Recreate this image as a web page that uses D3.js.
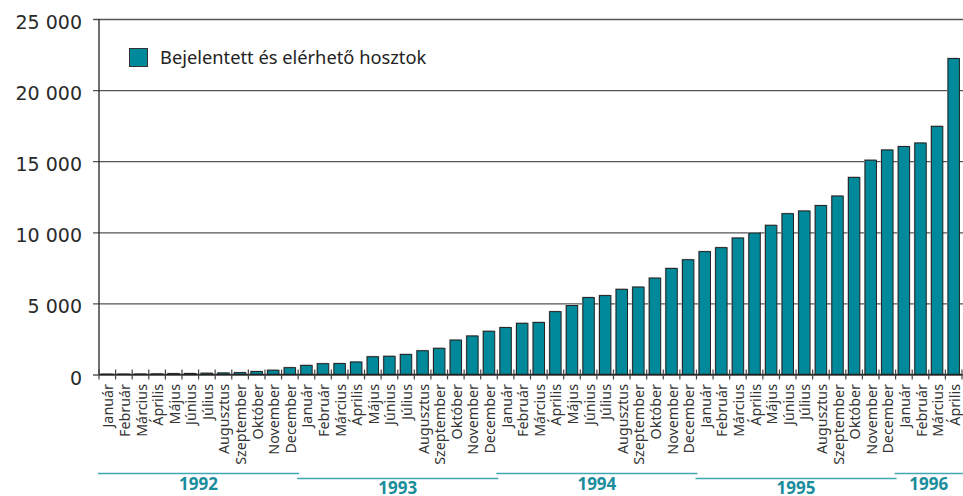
<!DOCTYPE html>
<html>
<head>
<meta charset="utf-8">
<script src="https://cdn.jsdelivr.net/npm/d3@7"></script>
<style>
  body { margin: 0; background: #fff; }
  svg { display: block; }
</style>
</head>
<body>
<div id="canvas"></div>
<script>
// months shown under every bar
var months = ['Január','Február','Március','Április','Május','Június','Július',
              'Augusztus','Szeptember','Október','November','December'];
var years = ['1992','1993','1994','1995','1996'];
var monthsPerYear = [12, 12, 12, 12, 4];

// registered and reachable hosts, Jan 1992 .. Apr 1996
var hosts1992 = [20, 25, 30, 40, 60, 70, 90, 110, 130, 210, 300, 480];
var hosts1993 = [640, 760, 770, 880, 1250, 1280, 1410, 1670, 1840, 2420, 2710, 3040];
var hosts1994 = [3300, 3600, 3660, 4420, 4850, 5410, 5550, 5990, 6150, 6780, 7460, 8070];
var hosts1995 = [8640, 8920, 9600, 9950, 10490, 11310, 11500, 11880, 12550, 13860, 15070, 15790];
var hosts1996 = [16030, 16280, 17450, 22220];

var yTicks = [0, 5000, 10000, 15000, 20000, 25000];
var legendLabel = 'Bejelentett és elérhető hosztok';

var allValues = [hosts1992, hosts1993, hosts1994, hosts1995, hosts1996];
var data = [];
allValues.forEach(function(arr, yi) {
  arr.forEach(function(v, mi) {
    data.push({key: years[yi] + '-' + mi, month: months[mi], year: years[yi], value: v});
  });
});

var W = 963, H = 496;
var plotLeft = 99, plotRight = 962, plotTop = 19, plotBottom = 374.5;
var teal = '#00899a';

var svg = d3.select('#canvas').append('svg')
  .attr('width', W)
  .attr('height', H);

var x = d3.scaleBand()
  .domain(data.map(function(d) { return d.key; }))
  .range([plotLeft, plotRight])
  .paddingInner(0.31)
  .paddingOuter(0.155);

var y = d3.scaleLinear()
  .domain([0, 25000])
  .range([plotBottom, plotTop]);

var fmt = d3.formatLocale({decimal: ',', thousands: ' ', grouping: [3], currency: ['', '']}).format(',d');

// y axis with gridlines
var yAxis = svg.append('g')
  .attr('transform', 'translate(' + plotLeft + ',0)')
  .call(d3.axisLeft(y).tickValues(yTicks).tickFormat(fmt).tickSizeOuter(0));
yAxis.select('.domain').remove();
yAxis.selectAll('.tick line')
  .attr('x1', -6)
  .attr('x2', W - plotLeft)
  .attr('stroke', '#555')
  .attr('stroke-width', 1.3);
yAxis.selectAll('.tick text')
  .attr('x', -17)
  .attr('dy', '0.5em')
  .style('font-family', 'DejaVu Sans')
  .style('font-size', '19px')
  .attr('fill', '#2a2a2a');

// vertical axis line
svg.append('line')
  .attr('x1', plotLeft).attr('x2', plotLeft)
  .attr('y1', y(25000)).attr('y2', y(0))
  .attr('stroke', '#222')
  .attr('stroke-width', 1.3);

// bars: light shadow then the bar
svg.append('g').selectAll('rect')
  .data(data)
  .enter().append('rect')
  .attr('x', function(d) { return x(d.key) - 1; })
  .attr('y', function(d) { return y(d.value) - 1; })
  .attr('width', x.bandwidth())
  .attr('height', function(d) { return y(0) - y(d.value) + 1; })
  .attr('fill', '#c4c4c4');

svg.append('g').selectAll('rect')
  .data(data)
  .enter().append('rect')
  .attr('x', function(d) { return x(d.key); })
  .attr('y', function(d) { return y(d.value); })
  .attr('width', x.bandwidth())
  .attr('height', function(d) { return y(0) - y(d.value); })
  .attr('fill', teal)
  .attr('stroke', '#222')
  .attr('stroke-width', 1);

// baseline and tick marks between months
svg.append('line')
  .attr('x1', plotLeft).attr('x2', plotRight)
  .attr('y1', y(0)).attr('y2', y(0))
  .attr('stroke', '#222')
  .attr('stroke-width', 1.3);

var bounds = d3.range(data.length + 1).map(function(i) { return plotLeft + i * x.step(); });
svg.append('g').selectAll('line')
  .data(bounds)
  .enter().append('line')
  .attr('x1', function(d) { return d; })
  .attr('x2', function(d) { return d; })
  .attr('y1', y(0) - 5)
  .attr('y2', y(0) + 5)
  .attr('stroke', '#444')
  .attr('stroke-width', 1.2);

// month labels
svg.append('g').selectAll('text')
  .data(data)
  .enter().append('text')
  .attr('transform', function(d) {
    return 'translate(' + (x(d.key) + x.bandwidth() / 2 + 1) + ',' + (y(0) + 9.5) + ') rotate(-90)';
  })
  .attr('dy', '0.35em')
  .attr('text-anchor', 'end')
  .style('font-family', 'Noto Sans')
  .style('font-size', '14.3px')
  .attr('fill', '#333')
  .text(function(d) { return d.month; });

// year brackets, alternating two levels
var start = 0;
years.forEach(function(yr, i) {
  var x0 = plotLeft + start * x.step();
  var x1 = plotLeft + (start + monthsPerYear[i]) * x.step();
  start += monthsPerYear[i];
  var ly = (i % 2 == 0) ? 473.5 : 478.5;
  svg.append('line')
    .attr('x1', x0 - 1).attr('x2', x1 + 1)
    .attr('y1', ly).attr('y2', ly)
    .attr('stroke', '#43a6b3')
    .attr('stroke-width', 1.6);
  svg.append('text')
    .attr('x', (x0 + x1) / 2)
    .attr('y', (i % 2 == 0) ? ly + 16.5 : 494)
    .attr('text-anchor', 'middle')
    .style('font-family', 'Noto Sans')
    .style('font-weight', 'bold')
    .style('font-size', '17px')
    .attr('fill', '#1a8d9d')
    .text(yr);
});

// legend
svg.append('rect')
  .attr('x', 129.5).attr('y', 48.5)
  .attr('width', 18).attr('height', 18)
  .attr('fill', teal)
  .attr('stroke', '#333');
svg.append('text')
  .attr('x', 160)
  .attr('y', 63.5)
  .style('font-family', 'Noto Sans')
  .style('font-size', '18.3px')
  .attr('fill', '#222')
  .text(legendLabel);
</script>
</body>
</html>
